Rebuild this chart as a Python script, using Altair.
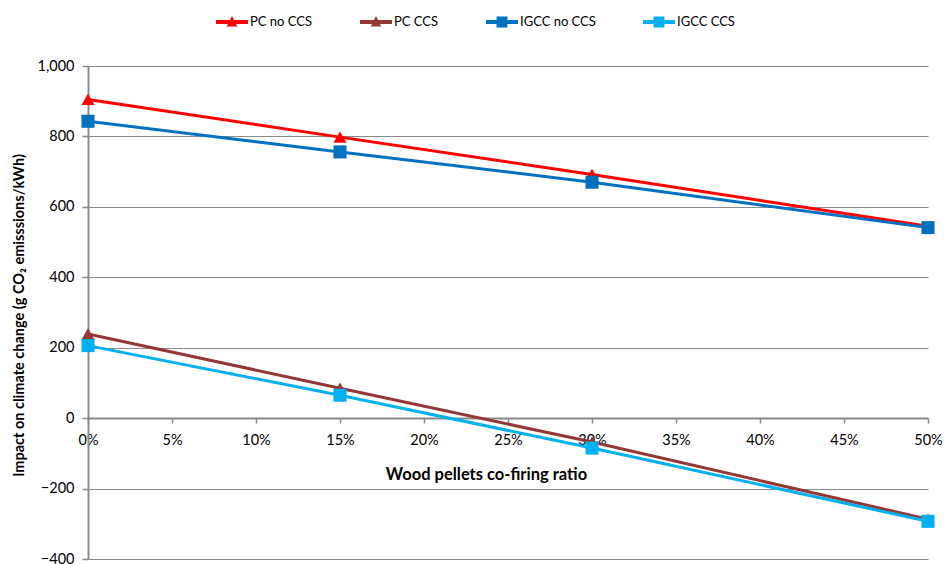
import altair as alt
import pandas as pd

# ---- data ----
ratios = [0.0, 0.15, 0.30, 0.50]
series_names = ["PC no CCS", "PC CCS", "IGCC no CCS", "IGCC CCS"]
pc_no_ccs = [905, 798, 692, 545]
pc_ccs = [239, 85, -68, -287]
igcc_no_ccs = [843, 756, 670, 541]
igcc_ccs = [206, 65, -85, -293]
series_colors = ["#FF0000", "#953735", "#0070C0", "#00B0F0"]
x_ticks = [0.0, 0.05, 0.10, 0.15, 0.20, 0.25, 0.30, 0.35, 0.40, 0.45, 0.50]
y_ticks = [-400, -200, 0, 200, 400, 600, 800, 1000]

rows = []
for name, vals in zip(series_names, [pc_no_ccs, pc_ccs, igcc_no_ccs, igcc_ccs]):
    for r, v in zip(ratios, vals):
        rows.append({"series": name, "ratio": r, "value": v})
df = pd.DataFrame(rows)

FONT = "Lato"
GRAY = "#8a8a8a"

tri_path = "M-1,-0.12H1V0.12H-1Z M0,-0.38L0.33,0.28L-0.33,0.28Z"
sq_path = "M-1,-0.12H1V0.12H-1Z M-0.34,-0.34H0.34V0.34H-0.34Z"

legend = alt.Legend(
    orient="none", legendX=128, legendY=-60, direction="horizontal", columns=4,
    title=None, symbolSize=1024, labelFont=FONT, labelFontSize=13, labelColor="black",
    labelOffset=2, columnPadding=47, padding=0, symbolOpacity=1, symbolStrokeWidth=0,
)

color_scale = alt.Scale(domain=series_names, range=series_colors)
color_nolegend = alt.Color("series:N", scale=color_scale, legend=None)

x = alt.X("ratio:Q", scale=alt.Scale(domain=[0, 0.5], nice=False),
          axis=alt.Axis(values=x_ticks, format=".0%", offset=-141, grid=False,
                        domainColor=GRAY, domainWidth=2, tickColor=GRAY, tickWidth=1.5, tickSize=5,
                        labelFont=FONT, labelFontSize=14.5, labelColor="black", labelPadding=10,
                        labelFlush=False, labelOverlap=False,
                        title="Wood pellets co-firing ratio", titleFont=FONT, titleFontSize=16.5,
                        titleFontWeight="bold", titleColor="black", titleX=398, titleY=56,
                        titleBaseline="middle", titleAlign="center"))
y = alt.Y("value:Q", scale=alt.Scale(domain=[-400, 1000], nice=False, zero=False),
          axis=alt.Axis(values=y_ticks, format=",.0f", grid=True, gridColor=GRAY, gridWidth=1.2,
                        domainColor=GRAY, domainWidth=2, tickColor=GRAY, tickWidth=1.5, tickSize=6,
                        labelFont=FONT, labelFontSize=14.5, labelColor="black", labelPadding=8,
                        title="Impact on climate change (g CO\u2082 emisssions/kWh)",
                        titleFont=FONT, titleFontSize=14.5, titleFontWeight="bold", titleColor="black",
                        titleX=-69, titleY=249, titleBaseline="middle", titleAlign="center"))

base = alt.Chart(df)
legend_layer = base.mark_point(filled=True, size=0).encode(
    x=x, y=y,
    fill=alt.Fill("series:N", scale=alt.Scale(domain=series_names, range=series_colors), legend=legend),
    shape=alt.Shape("series:N", scale=alt.Scale(domain=series_names,
                                                 range=[tri_path, tri_path, sq_path, sq_path]),
                    legend=legend),
)
lines = base.mark_line(strokeWidth=3).encode(x=x, y=y, color=color_nolegend, detail="series:N")
tris = base.transform_filter(alt.FieldOneOfPredicate(field="series", oneOf=["PC no CCS", "PC CCS"])).mark_point(
    shape="triangle-up", filled=True, size=170, opacity=1).encode(x=x, y=y, color=color_nolegend)
sqs = base.transform_filter(alt.FieldOneOfPredicate(field="series", oneOf=["IGCC no CCS", "IGCC CCS"])).mark_point(
    shape="square", filled=True, size=170, opacity=1).encode(x=x, y=y, color=color_nolegend)

chart = alt.layer(legend_layer, lines, tris, sqs).properties(
    width=840, height=493,
    autosize=alt.AutoSizeParams(type="none"),
    padding={"left": 88, "top": 66, "right": 16, "bottom": 5},
    background="white",
).configure_view(stroke=None)

chart.save("out.html", embed_options={"renderer": "svg", "actions": False})
